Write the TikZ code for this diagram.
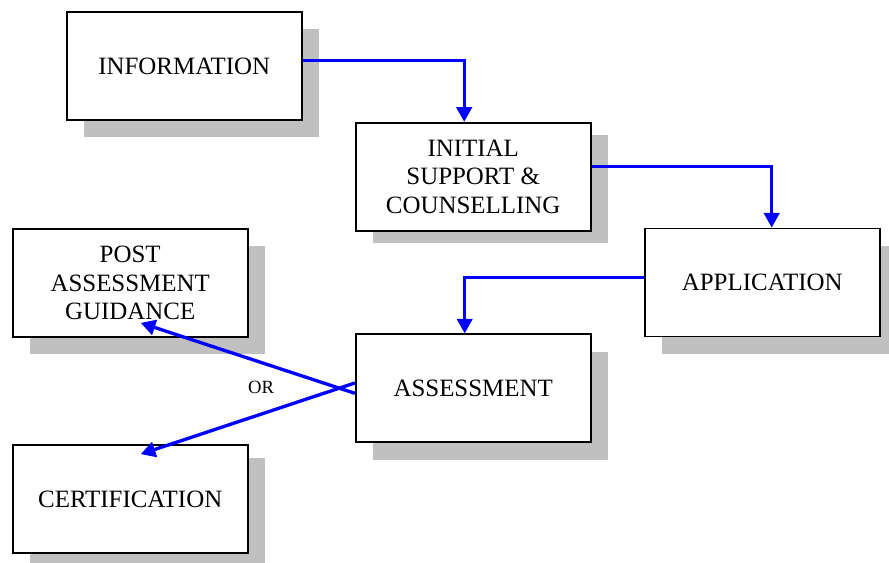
\documentclass[tikz,border=0pt]{standalone}
\usepackage{fontspec}
\setmainfont{Liberation Serif}
\usetikzlibrary{arrows.meta,calc,shadows}
\definecolor{shadowgray}{RGB}{192,192,192}
\definecolor{linkblue}{RGB}{0,0,255}
\begin{document}
\begin{tikzpicture}[x=0.75pt,y=-0.75pt,
  box/.style={draw=black, line width=1.3pt, fill=white,
    minimum width=176.25pt, minimum height=81pt, inner sep=0pt,
    align=center, font=\fontsize{18.7}{21.5}\selectfont,
    drop shadow={shadow xshift=13pt, shadow yshift=-#1, fill=shadowgray, opacity=1}},
  box/.default=13pt,
  link/.style={draw=linkblue, line width=2.5pt,
    -{Triangle[length=11pt,width=11.5pt]}},
  orlabel/.style={font=\fontsize{14}{16}\selectfont, inner sep=0pt}
]
\useasboundingbox (0,0) rectangle (889,562);

\node[box] (info) at (184.2,66) {INFORMATION};
\node[box=9.5pt] (init) at (473.2,176.7) {INITIAL\\SUPPORT \&\\COUNSELLING};
\node[box] (app) at (762.2,282.5) {APPLICATION};
\node[box] (post) at (130.2,283) {POST\\ASSESSMENT\\GUIDANCE};
\node[box] (assess) at (473.2,388.3) {ASSESSMENT};
\node[box=9.5pt] (cert) at (130.2,499) {CERTIFICATION};

\node[orlabel] (or) at (261,387) {OR};

\coordinate (postTip) at ($(post.south)+(10.5,-15)$);
\coordinate (certTip) at ($(cert.north)+(10.5,10)$);

\draw[link] ($(info.east)+(0,-5.3)$) -| ($(init.north)+(-9,0)$);
\draw[link] ($(init.east)+(0,-10)$) -| ($(app.north)+(9.5,0)$);
\draw[link] ($(app.west)+(0,-4.8)$) -| ($(assess.north)+(-8.5,0)$);
\draw[link] ($(assess.west)+(0,5)$) -- (postTip);
\draw[link] ($(assess.west)+(0,-5.3)$) -- (certTip);
\end{tikzpicture}
\end{document}
